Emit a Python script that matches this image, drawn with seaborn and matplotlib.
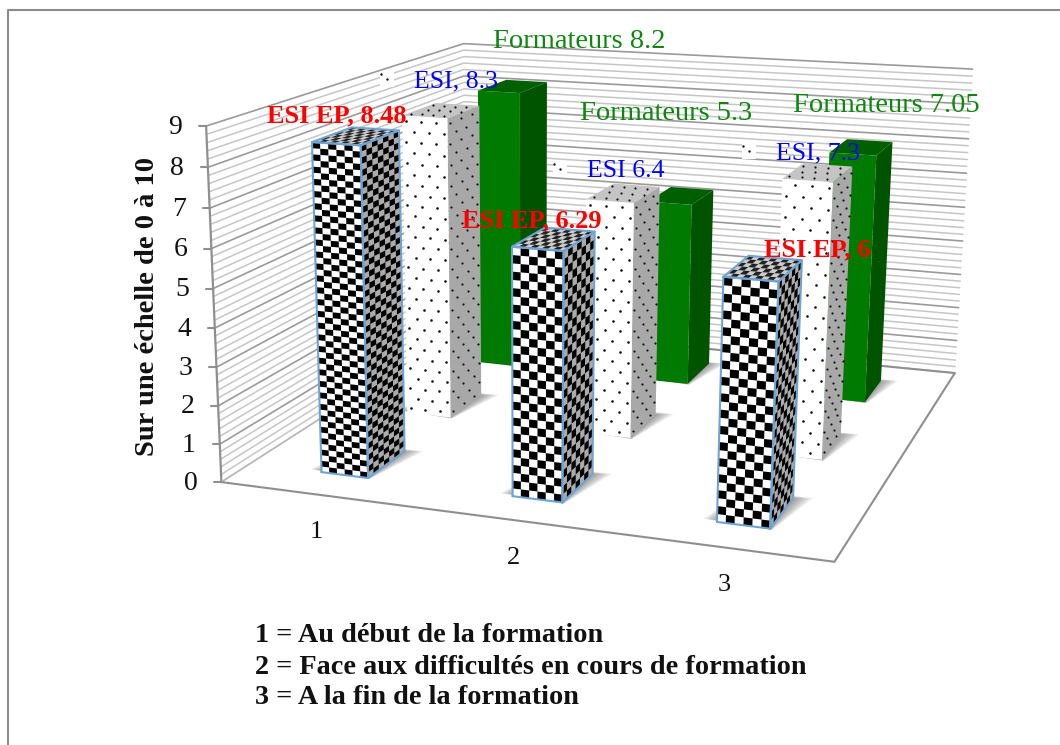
import numpy as np
import pandas as pd
import matplotlib
matplotlib.use('Agg')
import matplotlib.pyplot as plt
import seaborn as sns

# -------------------------
# Data
# -------------------------
categories = [1, 2, 3]
esi_ep = [8.48, 6.29, 6.0]
esi = [8.3, 6.4, 7.3]
formateurs = [8.2, 5.3, 7.05]
z_ticks = list(range(0, 10))
y_title = 'Sur une échelle de 0 à 10'
legend_lines = ['1 = Au début de la formation',
                '2 = Face aux difficultés en cours de formation',
                '3 = A la fin de la formation']
labels_ep = ['ESI EP, 8.48', 'ESI EP, 6.29', 'ESI EP, 6']
labels_esi = ['ESI, 8.3', 'ESI 6.4', 'ESI, 7.3']
labels_form = ['Formateurs 8.2', 'Formateurs 5.3', 'Formateurs 7.05']

# -------------------------
# Camera: box corners (x, y, z) -> picture pixels, fitted once
# -------------------------
box = [(0, 0, 0), (3, 0, 0), (3, 3, 0), (0, 3, 0), (0, 0, 9), (0, 3, 9), (3, 3, 9)]
pix = [(222, 481), (835, 562), (955, 373), (465, 326), (205, 127), (465, 43), (972, 69)]
rows = []
rhs = []
for (X, Y, Z), (u, v) in zip(box, pix):
    rows.append([X, Y, Z, 1, 0, 0, 0, 0, -u * X, -u * Y, -u * Z])
    rows.append([0, 0, 0, 0, X, Y, Z, 1, -v * X, -v * Y, -v * Z])
    rhs += [u, v]
# z does not add depth in this view
rows.append([0] * 10 + [1])
rhs.append(0)
cam = np.linalg.lstsq(np.array(rows, float), np.array(rhs, float), rcond=None)[0]
cam = np.append(cam, 1.0).reshape(3, 4)


def proj(x, y, z):
    p = cam @ np.array([x, y, z, 1.0])
    return p[0] / p[2], p[1] / p[2]


def pts(*corners):
    return [proj(*c) for c in corners]


sns.set_theme(style='white')
plt.rcParams['font.family'] = ['Liberation Serif', 'DejaVu Serif']
fig = plt.figure(figsize=(10.6, 7.45), dpi=100, facecolor='white')
ax = fig.add_axes([0, 0, 1, 1])
ax.set_xlim(0, 1060)
ax.set_ylim(745, 0)
ax.axis('off')

# outer frame, only top and left are in the picture
ax.plot([1060, 8, 8], [10, 10, 745], color='#8c8c8c', lw=1.5, zorder=1)

# -------------------------
# Walls, gridlines through seaborn
# -------------------------
grid = []
for i in range(46):
    z = i * 0.2
    a, b, c = proj(0, 0, z), proj(0, 3, z), proj(3, 3, z)
    for k, p in enumerate([a, b, c]):
        grid.append({'line': i, 'order': k, 'px': p[0], 'py': p[1], 'major': i % 5 == 0})
grid = pd.DataFrame(grid)
sns.lineplot(data=grid[~grid['major']], x='px', y='py', units='line', estimator=None, sort=False,
             color='#c6c6c6', lw=1.1, ax=ax, zorder=2, legend=False)
sns.lineplot(data=grid[grid['major']], x='px', y='py', units='line', estimator=None, sort=False,
             color='#9a9a9a', lw=1.2, ax=ax, zorder=2, legend=False)
ax.set_xlim(0, 1060)
ax.set_ylim(745, 0)
ax.axis('off')

edge = '#8f8f8f'
ax.plot(*zip(*pts((0, 0, 0), (0, 0, 9))), color=edge, lw=1.6, zorder=2)
# floor hides nothing behind it
ax.fill(*zip(*pts((0, 0, 0), (3, 0, 0), (3, 3, 0), (0, 3, 0))), color='white', zorder=2.1)
ax.plot(*zip(*pts((0, 3, 0), (0, 0, 0))), color='#b4b4b4', lw=1.1, zorder=2.2)
ax.plot(*zip(*pts((0, 0, 0), (3, 0, 0), (3, 3, 0), (0, 3, 0))), color=edge, lw=1.5, zorder=2.2)

for z in z_ticks:
    x0, y0 = proj(0, 0, z)
    ax.plot([x0 - 7, x0], [y0, y0], color=edge, lw=1.5, zorder=2.2)
    ax.text(x0 - 24, y0 + 1, str(z), ha='right', va='center', fontsize=20, color='#111111')

for c in categories:
    x0, y0 = proj(c - 0.5, 0, 0)
    ax.text(x0 + 1, y0 + 38, str(c), ha='center', va='center', fontsize=19, color='#111111')

# -------------------------
# Bars
# -------------------------
bar_w = 0.25
bar_d = 0.42
nudge = 0.012


def shadow(x0, x1, y0, y1, zo):
    for s in range(8):
        g = 0.008 * (8 - s)
        q = pts((x0 - g * 1.1, y0 + 0.02, 0), (x1 + g * 0.2, y0 - 0.01, 0),
                (x1 + g * 1.4, y1 + g * 0.5, 0), (x0 + g * 0.3, y1 + g * 0.5, 0))
        ax.fill(*zip(*q), color='#4a4a4a', alpha=0.08, lw=0, zorder=zo)


def quad_front(x0, x1, y, z0, z1):
    return [(x0, y, z0), (x1, y, z0), (x1, y, z1), (x0, y, z1)]


def quad_side(x, y0, y1, z0, z1):
    return [(x, y0, z0), (x, y1, z0), (x, y1, z1), (x, y0, z1)]


def quad_top(x0, x1, y0, y1, z):
    return [(x0, y0, z), (x1, y0, z), (x1, y1, z), (x0, y1, z)]


def fill3(corners, color, zo, **kw):
    ax.fill(*zip(*pts(*corners)), color=color, zorder=zo, lw=0, **kw)


def outline3(corners, zo):
    q = pts(*corners)
    q.append(q[0])
    ax.plot(*zip(*q), color='#6ea3d3', lw=1.5, zorder=zo, solid_joinstyle='round')


def checker(corners, nu, nv, light, dark, zo):
    # corners: a, b, c, d going round the face
    a, b, c, d = [np.array(k, float) for k in corners]
    fill3(corners, light, zo)
    for i in range(nu):
        for j in range(nv):
            if (i + j) % 2 == 0:
                continue
            u0, u1 = i / nu, (i + 1) / nu
            v0, v1 = j / nv, (j + 1) / nv
            cell = []
            for u, v in [(u0, v0), (u1, v0), (u1, v1), (u0, v1)]:
                cell.append(tuple(a + (b - a) * u + (d - a) * v + (c - d - b + a) * u * v))
            fill3(cell, dark, zo + 0.01)


def dots(corners, nu, nv, zo, size=3.5):
    a, b, c, d = [np.array(k, float) for k in corners]
    xs, ys = [], []
    for j in range(nv):
        for i in range(nu):
            u = (i + 0.25 + 0.5 * (j % 2)) / nu
            v = (j + 0.5) / nv
            xs_, ys_ = proj(*(a + (b - a) * u + (d - a) * v + (c - d - b + a) * u * v))
            xs.append(xs_)
            ys.append(ys_)
    ax.scatter(xs, ys, s=size, color='#111111', lw=0, zorder=zo)


# back row first so the front row covers it
form_colors = ['#007a00', '#005400', '#006000']
for i, v in enumerate(formateurs):
    c = categories[i] - 0.5 + nudge
    x0, x1, y0, y1 = c - bar_w / 2, c + bar_w / 2, 2.5 - bar_d / 2, 2.5 + bar_d / 2
    shadow(x0, x1, y0, y1, 3)
    fill3(quad_top(x0, x1, y0, y1, v), form_colors[2], 3.2)
    fill3(quad_side(x1, y0, y1, 0, v), form_colors[1], 3.2)
    fill3(quad_front(x0, x1, y0, 0, v), form_colors[0], 3.2)

for i, v in enumerate(esi):
    c = categories[i] - 0.5 + nudge
    x0, x1, y0, y1 = c - bar_w / 2, c + bar_w / 2, 1.5 - bar_d / 2, 1.5 + bar_d / 2
    shadow(x0, x1, y0, y1, 4)
    zo = 4.2
    fill3(quad_top(x0, x1, y0, y1, v), '#c4c4c4', zo)
    dots(quad_top(x0, x1, y0, y1, v), 4, 3, zo + 0.01, 2.5)
    fill3(quad_side(x1, y0, y1, 0, v), '#a8a8a8', zo)
    dots(quad_side(x1, y0, y1, 0, v), 3, int(v * 3.6), zo + 0.01, 2.5)
    fill3(quad_front(x0, x1, y0, 0, v), 'white', zo)
    dots(quad_front(x0, x1, y0, 0, v), 3, int(v * 3.6), zo + 0.01)

ep_rows = [56, 31, 30]
for i, v in enumerate(esi_ep):
    c = categories[i] - 0.5 + nudge
    x0, x1, y0, y1 = c - bar_w / 2, c + bar_w / 2, 0.5 - bar_d / 2, 0.5 + bar_d / 2
    shadow(x0, x1, y0, y1, 5)
    zo = 5.2
    top = quad_top(x0, x1, y0, y1, v)
    side = quad_side(x1, y0, y1, 0, v)
    front = quad_front(x0, x1, y0, 0, v)
    checker(top, 9, 6, '#cccccc', '#222222', zo)
    checker(side, 7, ep_rows[i], '#ababab', '#000000', zo)
    checker(front, 6, ep_rows[i], '#ffffff', '#000000', zo)
    outline3(top, zo + 0.1)
    outline3(side, zo + 0.1)
    outline3(front, zo + 0.1)

# -------------------------
# Text
# -------------------------
green = '#0e870e'
for s, xp, yp in zip(labels_form, [493, 580, 793], [41, 113, 105]):
    ax.text(xp, yp, s, color=green, fontsize=20.5, ha='left', va='center', zorder=9)
for s, xp, yp in zip(labels_esi, [414, 587, 776], [81, 171, 153]):
    ax.text(xp, yp, s, color='#0000ff', fontsize=18.5, ha='left', va='center', zorder=9)
    ax.add_patch(plt.Rectangle((xp - 34, yp - 9), 14, 15, color='white', lw=0, zorder=8))
    ax.scatter([xp - 27, xp - 33], [yp - 2, yp - 7], s=3, color='#111111', lw=0, zorder=8.5)
for s, xp, yp in zip(labels_ep, [267, 462, 764], [116, 221, 250]):
    ax.text(xp, yp, s, color='#ff0000', fontsize=19, fontweight='bold', ha='left', va='center', zorder=9)

ax.text(147, 307, y_title, rotation=90, ha='center', va='center', fontsize=20.5, fontweight='bold', color='#111111')
for s, yp in zip(legend_lines, [636, 667, 698]):
    ax.text(255, yp, s, ha='left', va='center', fontsize=20.3, fontweight='bold', color='#111111')

fig.savefig('out.png', dpi=100, facecolor='white')
